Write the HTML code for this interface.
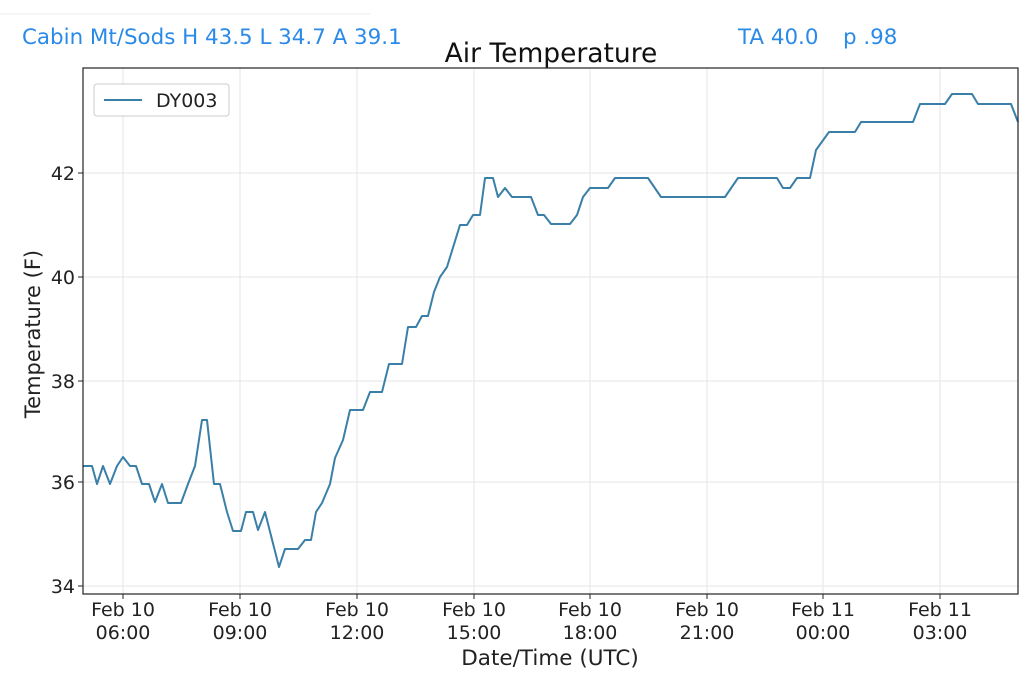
<!DOCTYPE html>
<html><head><style>
body{margin:0;background:#fff;width:1024px;height:681px;overflow:hidden;font-family:"DejaVu Sans","Liberation Sans",sans-serif;}
</style></head><body>
<svg width="1024" height="681" xmlns="http://www.w3.org/2000/svg" font-family="DejaVu Sans, Liberation Sans, sans-serif">
<line x1="0" y1="14" x2="370" y2="14" stroke="#eee" stroke-width="1"/>
<text x="22" y="44" font-size="21.4" fill="#2a8ae8">Cabin Mt/Sods H 43.5 L 34.7 A 39.1</text>
<text x="738" y="44" font-size="21.4" fill="#2a8ae8">TA 40.0</text>
<text x="843" y="44" font-size="21.4" fill="#2a8ae8">p .98</text>
<text x="551" y="62" font-size="26.5" text-anchor="middle" fill="#111">Air Temperature</text>
<g stroke="#e6e6e6" stroke-width="1">
<line x1="123" y1="68" x2="123" y2="594"/><line x1="240" y1="68" x2="240" y2="594"/><line x1="357" y1="68" x2="357" y2="594"/><line x1="474" y1="68" x2="474" y2="594"/><line x1="590" y1="68" x2="590" y2="594"/><line x1="707" y1="68" x2="707" y2="594"/><line x1="823" y1="68" x2="823" y2="594"/><line x1="940" y1="68" x2="940" y2="594"/>
<line x1="83" y1="173" x2="1018" y2="173"/><line x1="83" y1="277" x2="1018" y2="277"/><line x1="83" y1="381" x2="1018" y2="381"/><line x1="83" y1="482" x2="1018" y2="482"/><line x1="83" y1="586" x2="1018" y2="586"/>
</g>
<polyline fill="none" stroke="#3a7fa8" stroke-width="2" stroke-linejoin="round" points="83,466 92,466 97,484 103,466 110,484 117,466 123,457 130,466 136,466 142,484 149,484 155,502 162,484 168,503 181,503 188,484 195,466 202,420 207,420 214,484 220,484 227,512 233,531 241,531 246,512 253,512 258,530 265,512 279,567 285,549 298,549 305,540 311,540 316,512 322,503 330,484 335,458 343,440 350,410 363,410 370,392 382,392 389,364 402,364 408,327 416,327 422,316 428,316 434,292 440,277 447,267 460,225 467,225 473,215 480,215 485,178 493,178 498,197 505,188 512,197 531,197 538,215 544,215 551,224 570,224 577,215 583,197 590,188 608,188 615,178 648,178 661,197 725,197 738,178 777,178 783,188 790,188 797,178 810,178 816,150 829,132 855,132 861,122 913,122 920,104 945,104 952,94 972,94 978,104 1011,104 1018,122"/>
<rect x="83" y="68" width="935" height="526" fill="none" stroke="#222" stroke-width="1.2"/>
<g stroke="#222" stroke-width="1">
<line x1="78" y1="173" x2="83" y2="173"/><line x1="78" y1="277" x2="83" y2="277"/><line x1="78" y1="381" x2="83" y2="381"/><line x1="78" y1="482" x2="83" y2="482"/><line x1="78" y1="586" x2="83" y2="586"/>
<line x1="123" y1="594" x2="123" y2="599"/><line x1="240" y1="594" x2="240" y2="599"/><line x1="357" y1="594" x2="357" y2="599"/><line x1="474" y1="594" x2="474" y2="599"/><line x1="590" y1="594" x2="590" y2="599"/><line x1="707" y1="594" x2="707" y2="599"/><line x1="823" y1="594" x2="823" y2="599"/><line x1="940" y1="594" x2="940" y2="599"/>
</g>
<g font-size="19" fill="#222" text-anchor="end">
<text x="75" y="180">42</text><text x="75" y="284">40</text><text x="75" y="388">38</text><text x="75" y="489">36</text><text x="75" y="593">34</text>
</g>
<g font-size="19" fill="#222" text-anchor="middle">
<text x="123" y="616">Feb 10</text><text x="123" y="639">06:00</text>
<text x="240" y="616">Feb 10</text><text x="240" y="639">09:00</text>
<text x="357" y="616">Feb 10</text><text x="357" y="639">12:00</text>
<text x="474" y="616">Feb 10</text><text x="474" y="639">15:00</text>
<text x="590" y="616">Feb 10</text><text x="590" y="639">18:00</text>
<text x="707" y="616">Feb 10</text><text x="707" y="639">21:00</text>
<text x="823" y="616">Feb 11</text><text x="823" y="639">00:00</text>
<text x="940" y="616">Feb 11</text><text x="940" y="639">03:00</text>
</g>
<text x="550" y="665" font-size="21.5" text-anchor="middle" fill="#222">Date/Time (UTC)</text>
<text transform="translate(40,334) rotate(-90)" font-size="21" text-anchor="middle" fill="#222">Temperature (F)</text>
<rect x="94" y="84" width="135" height="32" rx="3" fill="#fff" stroke="#ccc"/>
<line x1="104" y1="100" x2="142" y2="100" stroke="#3a7fa8" stroke-width="2"/>
<text x="156" y="107" font-size="19" fill="#222">DY003</text>
</svg>
</body></html>
